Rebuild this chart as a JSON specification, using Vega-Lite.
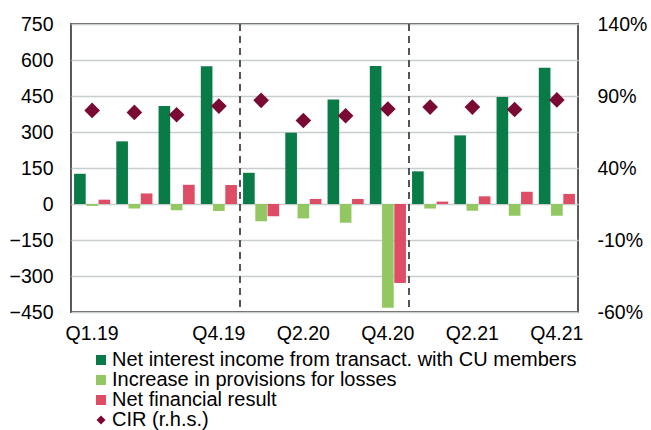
{
  "$schema": "https://vega.github.io/schema/vega-lite/v6.json",
  "autosize": {"type": "none"},
  "width": 507,
  "height": 288,
  "padding": {"left": 71, "top": 24, "right": 73, "bottom": 118},
  "background": "white",
  "config": {
    "font": "Liberation Sans",
    "view": {"stroke": "#5a5a5a", "strokeWidth": 2},
    "axis": {"labelFont": "Liberation Sans", "labelFontSize": 19.5, "labelColor": "#000000", "domain": false, "ticks": false, "title": null}
  },
  "datasets": {
    "bars": [
      {"quarter": "Q1.19", "series": "Net interest income from transact. with CU members", "value": 126},
      {"quarter": "Q1.19", "series": "Increase in provisions for losses", "value": -8},
      {"quarter": "Q1.19", "series": "Net financial result", "value": 18},
      {"quarter": "Q2.19", "series": "Net interest income from transact. with CU members", "value": 261},
      {"quarter": "Q2.19", "series": "Increase in provisions for losses", "value": -19},
      {"quarter": "Q2.19", "series": "Net financial result", "value": 44},
      {"quarter": "Q3.19", "series": "Net interest income from transact. with CU members", "value": 408},
      {"quarter": "Q3.19", "series": "Increase in provisions for losses", "value": -26},
      {"quarter": "Q3.19", "series": "Net financial result", "value": 80},
      {"quarter": "Q4.19", "series": "Net interest income from transact. with CU members", "value": 574},
      {"quarter": "Q4.19", "series": "Increase in provisions for losses", "value": -29},
      {"quarter": "Q4.19", "series": "Net financial result", "value": 79},
      {"quarter": "Q1.20", "series": "Net interest income from transact. with CU members", "value": 130},
      {"quarter": "Q1.20", "series": "Increase in provisions for losses", "value": -72},
      {"quarter": "Q1.20", "series": "Net financial result", "value": -51},
      {"quarter": "Q2.20", "series": "Net interest income from transact. with CU members", "value": 297},
      {"quarter": "Q2.20", "series": "Increase in provisions for losses", "value": -60},
      {"quarter": "Q2.20", "series": "Net financial result", "value": 21},
      {"quarter": "Q3.20", "series": "Net interest income from transact. with CU members", "value": 435},
      {"quarter": "Q3.20", "series": "Increase in provisions for losses", "value": -78},
      {"quarter": "Q3.20", "series": "Net financial result", "value": 21},
      {"quarter": "Q4.20", "series": "Net interest income from transact. with CU members", "value": 575},
      {"quarter": "Q4.20", "series": "Increase in provisions for losses", "value": -432},
      {"quarter": "Q4.20", "series": "Net financial result", "value": -329},
      {"quarter": "Q1.21", "series": "Net interest income from transact. with CU members", "value": 136},
      {"quarter": "Q1.21", "series": "Increase in provisions for losses", "value": -19},
      {"quarter": "Q1.21", "series": "Net financial result", "value": 10},
      {"quarter": "Q2.21", "series": "Net interest income from transact. with CU members", "value": 286},
      {"quarter": "Q2.21", "series": "Increase in provisions for losses", "value": -28},
      {"quarter": "Q2.21", "series": "Net financial result", "value": 32},
      {"quarter": "Q3.21", "series": "Net interest income from transact. with CU members", "value": 446},
      {"quarter": "Q3.21", "series": "Increase in provisions for losses", "value": -49},
      {"quarter": "Q3.21", "series": "Net financial result", "value": 51},
      {"quarter": "Q4.21", "series": "Net interest income from transact. with CU members", "value": 568},
      {"quarter": "Q4.21", "series": "Increase in provisions for losses", "value": -49},
      {"quarter": "Q4.21", "series": "Net financial result", "value": 42}
    ],
    "cir": [
      {"quarter": "Q1.19", "series": "CIR (r.h.s.)", "cir": 80},
      {"quarter": "Q2.19", "series": "CIR (r.h.s.)", "cir": 78.6},
      {"quarter": "Q3.19", "series": "CIR (r.h.s.)", "cir": 77},
      {"quarter": "Q4.19", "series": "CIR (r.h.s.)", "cir": 83},
      {"quarter": "Q1.20", "series": "CIR (r.h.s.)", "cir": 87},
      {"quarter": "Q2.20", "series": "CIR (r.h.s.)", "cir": 73},
      {"quarter": "Q3.20", "series": "CIR (r.h.s.)", "cir": 76.3},
      {"quarter": "Q4.20", "series": "CIR (r.h.s.)", "cir": 81},
      {"quarter": "Q1.21", "series": "CIR (r.h.s.)", "cir": 82.3},
      {"quarter": "Q2.21", "series": "CIR (r.h.s.)", "cir": 82.3},
      {"quarter": "Q3.21", "series": "CIR (r.h.s.)", "cir": 80.6},
      {"quarter": "Q4.21", "series": "CIR (r.h.s.)", "cir": 87.3}
    ],
    "dividers": [
      {"quarter": "Q4.19"},
      {"quarter": "Q4.20"}
    ]
  },
  "layer": [
    {
      "data": {"name": "bars"},
      "mark": {"type": "bar"},
      "encoding": {
        "x": {
          "field": "quarter", "type": "ordinal", "title": null,
          "scale": {"domain": ["Q1.19","Q2.19","Q3.19","Q4.19","Q1.20","Q2.20","Q3.20","Q4.20","Q1.21","Q2.21","Q3.21","Q4.21"], "paddingInner": 0, "paddingOuter": 0},
          "axis": {"values": ["Q1.19","Q4.19","Q2.20","Q4.20","Q2.21","Q4.21"], "labelAngle": 0, "labelPadding": 12, "labelBaseline": "top", "grid": false}
        },
        "xOffset": {
          "field": "series", "type": "nominal",
          "scale": {"domain": ["Net interest income from transact. with CU members", "Increase in provisions for losses", "Net financial result"], "paddingInner": 0.05, "paddingOuter": 0.25}
        },
        "y": {
          "field": "value", "type": "quantitative", "title": null,
          "scale": {"domain": [-450, 750], "nice": false, "zero": false},
          "axis": {"values": [-450, -300, -150, 0, 150, 300, 450, 600, 750], "grid": true, "gridColor": "#c8cdd0", "gridWidth": 1.5, "labelPadding": 18}
        },
        "color": {
          "field": "series", "type": "nominal",
          "scale": {
            "domain": ["Net interest income from transact. with CU members", "Increase in provisions for losses", "Net financial result", "CIR (r.h.s.)"],
            "range": ["#087b46", "#93c762", "#de4c66", "#7a0a34"]
          },
          "legend": {
            "title": null, "orient": "none", "legendX": 20, "legendY": 326,
            "labelFont": "Liberation Sans", "labelFontSize": 20, "labelColor": "#000000",
            "symbolSize": 100, "labelOffset": 1, "rowPadding": -1.5, "padding": 0,
            "labelLimit": 600,
            "encode": {"symbols": {"update": {
              "shape": {"signal": "datum.value === 'CIR (r.h.s.)' ? 'diamond' : 'square'"},
              "size": {"signal": "datum.value === 'CIR (r.h.s.)' ? 81 : 100"},
              "strokeWidth": {"value": 0}
            }}}
          }
        }
      }
    },
    {
      "data": {"name": "dividers"},
      "mark": {"type": "rule", "color": "#555555", "strokeWidth": 2, "strokeDash": [7, 5]},
      "encoding": {
        "x": {"field": "quarter", "type": "ordinal", "bandPosition": 1, "title": null}
      }
    },
    {
      "data": {"name": "cir"},
      "mark": {"type": "point", "shape": "diamond", "filled": true, "size": 245, "opacity": 1},
      "encoding": {
        "x": {"field": "quarter", "type": "ordinal", "title": null},
        "y": {
          "field": "cir", "type": "quantitative", "title": null,
          "scale": {"domain": [-60, 140], "nice": false, "zero": false},
          "axis": {"orient": "right", "values": [-60, -10, 40, 90, 140], "labelExpr": "datum.value + '%'", "grid": false, "labelPadding": 19}
        },
        "color": {"field": "series", "type": "nominal"}
      }
    }
  ],
  "resolve": {"scale": {"y": "independent"}}
}
